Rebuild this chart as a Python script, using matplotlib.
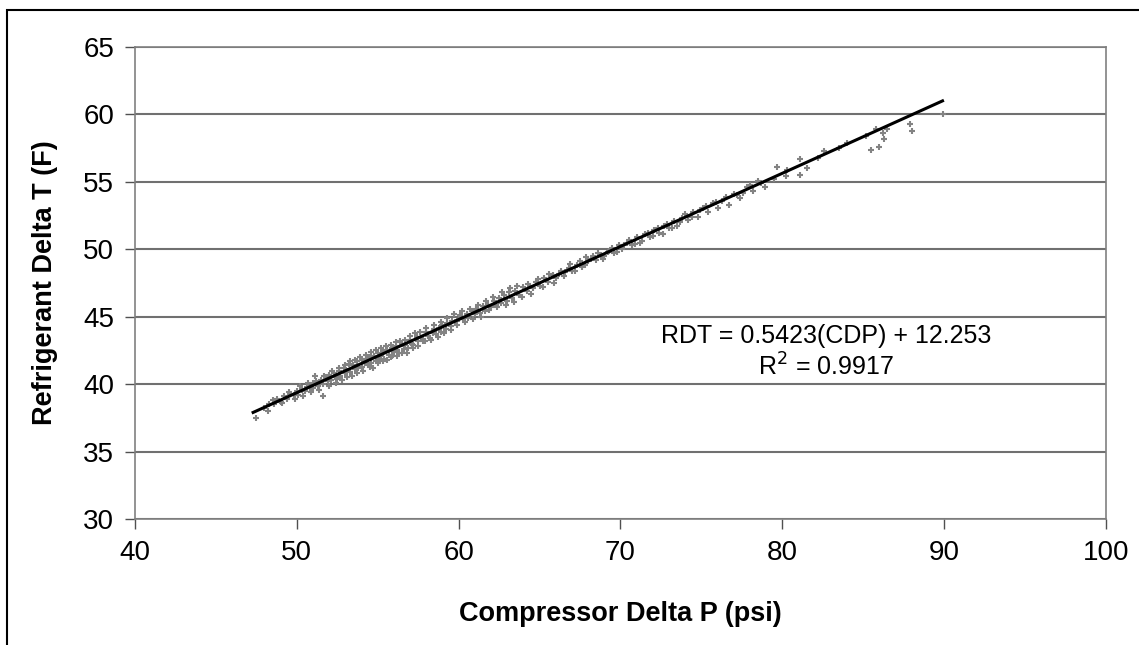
import matplotlib
matplotlib.use("Agg")
import matplotlib.pyplot as plt
from matplotlib.patches import Rectangle

plt.rcParams['font.family'] = ['Liberation Sans', 'DejaVu Sans']

# compressor delta P (psi) readings
cdp = [47.5, 48.0, 48.3, 48.6, 48.8, 49.0, 49.2, 49.4, 49.6, 49.8,
       50.0, 50.1, 50.3, 50.5, 50.6, 50.8, 51.0, 51.0, 51.2, 51.3,
       51.5, 51.6, 51.8, 51.9, 52.0, 52.1, 52.3, 52.4, 52.5, 52.6,
       52.7, 52.9, 53.0, 53.1, 53.2, 53.3, 53.5, 53.6, 53.7, 53.8,
       54.0, 54.0, 54.2, 54.3, 54.4, 54.5, 54.6, 54.8, 54.9, 55.0,
       55.1, 55.2, 55.3, 55.4, 55.6, 55.7, 55.8, 55.9, 56.0, 56.1,
       56.2, 56.3, 56.5, 56.6, 56.7, 56.9, 57.0, 57.1, 57.2, 57.4,
       57.5, 57.7, 57.8, 58.0, 58.1, 58.2, 58.4, 58.5, 58.6, 58.8,
       58.9, 59.0, 59.2, 59.3, 59.5, 59.6, 59.8, 60.0, 60.1, 60.3,
       60.5, 60.6, 60.8, 61.0, 61.1, 61.3, 61.5, 61.6, 61.8, 62.0,
       62.2, 62.3, 62.5, 62.6, 62.8, 63.0, 63.1, 63.3, 63.5, 63.7,
       64.0, 64.2, 64.4, 64.6, 64.8, 65.0, 65.3, 65.5, 65.8, 66.0,
       66.3, 66.5, 66.8, 67.0, 67.3, 67.6, 67.9, 68.0, 68.3, 68.5,
       68.8, 69.0, 69.3, 69.6, 69.9, 70.1, 70.4, 70.7, 71.0, 71.2,
       71.5, 71.8, 72.1, 72.4, 72.7, 73.0, 73.3, 73.5, 73.8, 74.2,
       74.5, 74.8, 75.1, 75.4, 75.7, 76.0, 76.3, 76.7, 77.0, 77.4,
       77.8, 78.2, 78.5, 78.9, 79.5, 79.7, 80.2, 80.3, 81.1, 81.1,
       81.5, 82.2, 82.6, 83.5, 84.0, 85.2, 85.5, 85.8, 86.0, 86.2,
       86.3, 86.5, 87.9, 88.0, 89.9,
       48.2, 48.5, 49.1, 49.5, 49.9, 50.2, 50.4, 50.7, 50.9, 51.1,
       51.4, 51.6, 51.7, 52.0, 52.2, 52.4, 52.6, 52.8, 53.0, 53.1,
       53.3, 53.4, 53.6, 53.7, 53.9, 54.1, 54.3, 54.5, 54.6, 54.7,
       54.9, 55.0, 55.2, 55.3, 55.5, 55.6, 55.8, 55.9, 56.1, 56.2,
       56.4, 56.5, 56.7, 56.8, 57.0, 57.2, 57.3, 57.5, 57.6, 57.9,
       58.0, 58.3, 58.5, 58.7, 58.9, 59.1, 59.3, 59.5, 59.7, 59.9,
       60.2, 60.4, 60.7, 60.9, 61.2, 61.4, 61.7, 61.9, 62.1, 62.4,
       62.7, 62.9, 63.2, 63.4, 63.6, 63.9, 64.3, 64.5, 64.9, 65.2,
       65.6, 65.9, 66.2, 66.6, 66.9, 67.2, 67.5, 67.8, 68.2, 68.6,
       68.9, 69.2, 69.5, 69.8, 70.2, 70.5, 70.9, 71.3, 71.7, 72.0,
       72.3, 72.6, 72.9, 73.2, 73.7, 74.0, 74.4, 74.9, 75.3, 75.9,
       76.5, 77.2, 77.6, 78.0, 78.7]

# refrigerant delta T (F) readings
rdt = [37.5, 38.2, 38.5, 38.5, 38.9, 38.7, 39.1, 38.9, 39.3, 39.2,
       39.5, 39.2, 39.6, 39.5, 39.8, 39.7, 40.1, 39.7, 40.2, 39.9,
       40.3, 40.0, 40.5, 40.2, 40.7, 40.3, 40.8, 40.5, 40.4, 41.0,
       40.6, 41.2, 40.8, 41.0, 41.5, 40.9, 41.4, 41.1, 41.7, 41.2,
       41.8, 41.3, 41.6, 41.9, 41.4, 42.0, 41.6, 42.1, 41.7, 42.3,
       41.9, 42.1, 42.4, 41.9, 42.5, 42.2, 42.0, 42.7, 42.4, 42.8,
       42.5, 42.3, 43.0, 42.6, 42.9, 42.7, 43.3, 43.0, 42.9, 43.5,
       43.2, 43.4, 43.2, 43.9, 43.6, 43.4, 43.8, 44.1, 43.7, 44.2,
       43.9, 44.4, 44.1, 44.5, 44.3, 44.7, 44.6, 44.8, 45.1, 44.8,
       45.2, 44.9, 45.4, 45.2, 45.6, 45.3, 45.8, 45.4, 45.9, 45.7,
       46.2, 45.9, 46.4, 46.0, 46.6, 46.2, 46.8, 46.4, 46.9, 46.6,
       47.2, 46.9, 47.3, 47.1, 47.6, 47.3, 47.9, 47.6, 48.1, 47.9,
       48.4, 48.0, 48.6, 48.4, 48.8, 48.7, 49.4, 49.1, 49.5, 49.2,
       49.6, 49.5, 49.9, 49.7, 50.3, 50.0, 50.5, 50.3, 50.9, 50.5,
       51.1, 50.9, 51.4, 51.2, 51.7, 51.6, 52.1, 51.7, 52.3, 52.2,
       52.8, 52.4, 53.1, 52.8, 53.4, 53.1, 53.6, 53.3, 54.1, 53.8,
       54.6, 54.3, 55.1, 54.6, 55.2, 56.1, 55.4, 55.9, 56.7, 55.5,
       56.0, 56.8, 57.3, 57.5, 57.9, 58.4, 57.4, 58.9, 57.6, 58.6,
       58.2, 58.9, 59.3, 58.8, 60.0,
       38.0, 38.8, 38.6, 39.4, 38.9, 39.9, 39.1, 40.1, 39.4, 40.6,
       39.6, 39.1, 40.6, 39.9, 41.0, 40.1, 41.2, 40.3, 41.4, 40.5,
       41.7, 40.6, 41.8, 40.8, 42.0, 41.0, 42.2, 41.3, 42.4, 41.2,
       42.5, 41.6, 42.7, 41.7, 42.8, 41.8, 42.9, 42.1, 43.1, 42.1,
       43.2, 42.3, 43.3, 42.3, 43.6, 42.7, 43.8, 42.8, 43.9, 43.2,
       44.2, 43.3, 44.4, 43.5, 44.6, 43.8, 44.9, 44.0, 45.2, 44.4,
       45.4, 44.6, 45.6, 44.8, 45.9, 45.0, 46.2, 45.5, 46.5, 45.7,
       46.8, 45.9, 47.1, 46.1, 47.3, 46.5, 47.4, 46.7, 47.8, 47.2,
       48.2, 47.5, 48.2, 48.3, 48.9, 48.4, 49.1, 48.8, 49.3, 49.7,
       49.3, 49.8, 50.1, 49.8, 50.3, 50.7, 50.4, 50.6, 51.2, 51.0,
       51.6, 51.1, 51.9, 51.6, 52.0, 52.6, 52.4, 52.9, 53.2, 53.5,
       53.9, 54.0, 54.2, 54.8, 54.9]

# trendline from the chart label
slope = 0.5423
intercept = 12.253
fit_x = [47.3, 89.9]

fig = plt.figure(figsize=(11.39, 6.45), dpi=100)
ax = fig.add_axes([0.1185, 0.1953, 0.8525, 0.7318])

ax.plot(cdp, rdt, '+', color='#838383', ms=5, mew=1.5, zorder=2)
ax.plot(fit_x, [slope * v + intercept for v in fit_x], color='black', lw=2.2, zorder=3)

ax.set_xlim(40, 100)
ax.set_ylim(30, 65)
ax.set_xticks(range(40, 101, 10))
ax.set_yticks(range(30, 66, 5))
ax.yaxis.grid(True, color='#707070', lw=1.5)
ax.set_axisbelow(True)
for s in ax.spines.values():
    s.set_color('#808080')
    s.set_linewidth(1.2)
ax.tick_params(direction='out', length=7, width=1, color='#505050', labelsize=20, pad=8)

ax.set_xlabel('Compressor Delta P (psi)', fontsize=19.5, fontweight='bold', labelpad=25)
ax.set_ylabel('Refrigerant Delta T (F)', fontsize=19.5, fontweight='bold', labelpad=18)

ax.text(82.7, 43.58, 'RDT = 0.5423(CDP) + 12.253', fontsize=18, ha='center', va='center')
ax.text(82.7, 41.28, 'R$^2$ = 0.9917', fontsize=18, ha='center', va='center')

fig.patches.append(Rectangle((7 / 1139, -0.1), 1.2, 1 - 10 / 645 + 0.1, transform=fig.transFigure,
                             fill=False, edgecolor='black', lw=1.5))

fig.savefig('out.png', dpi=100)
